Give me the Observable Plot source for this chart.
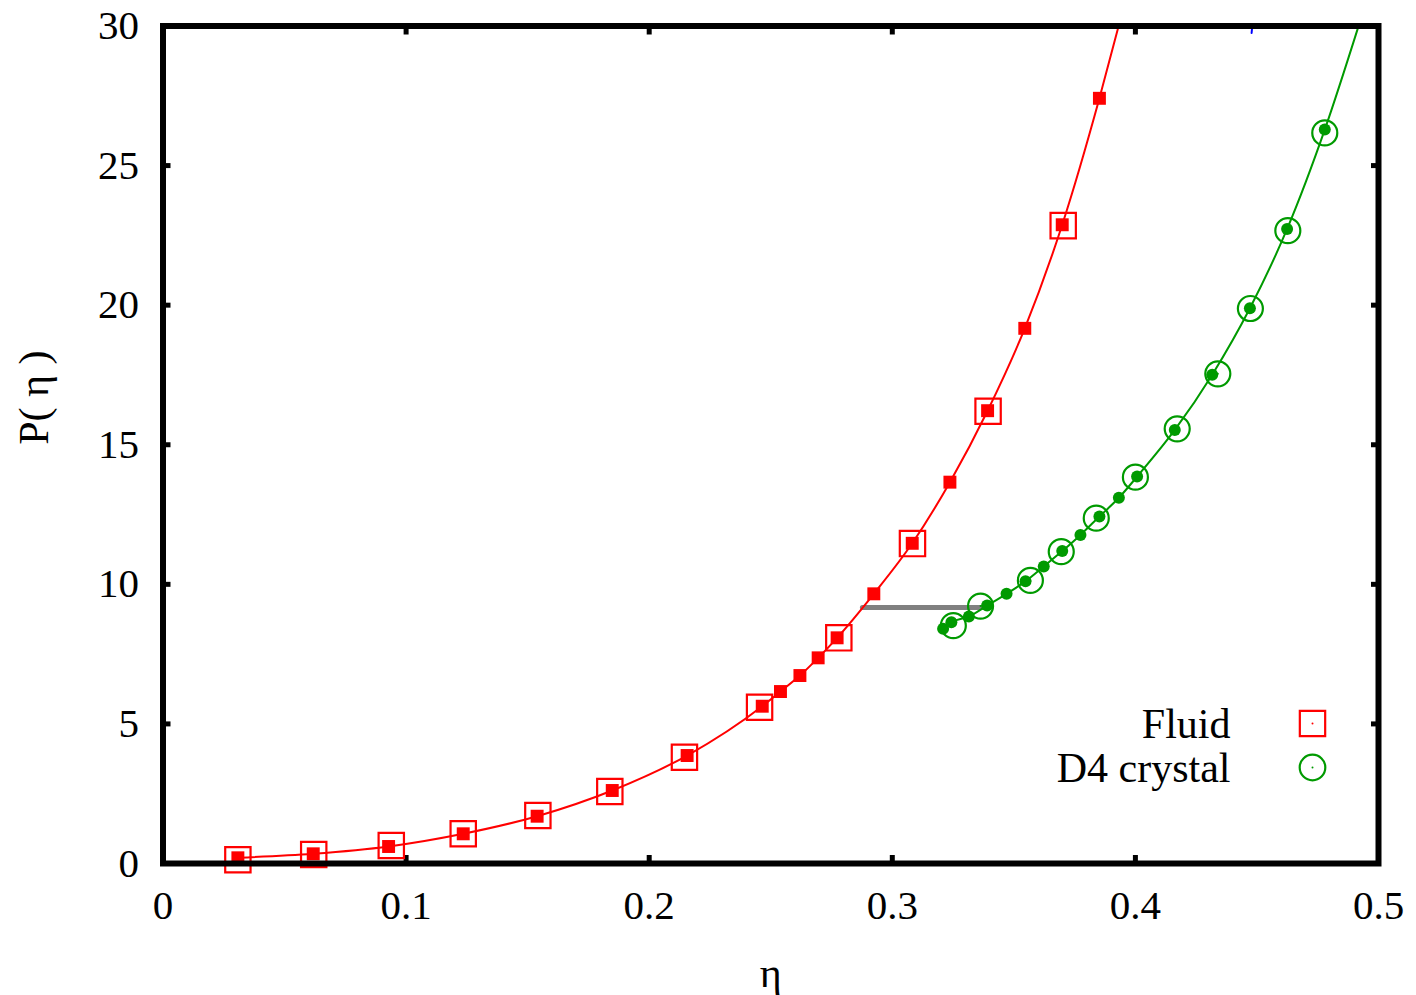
<!DOCTYPE html>
<html><head><meta charset="utf-8">
<script src="https://cdn.jsdelivr.net/npm/d3@7"></script>
<script src="https://cdn.jsdelivr.net/npm/@observablehq/plot@0.6"></script>
<style>html,body{margin:0;padding:0;background:#fff}#chart svg{display:block}</style>
</head><body><div id="chart"></div>
<script>
// Fluid: theory (line + filled squares)
const fluidTheoryEta = [0.0308,0.0618,0.0928,0.1235,0.1539,0.1848,0.2156,0.2465,0.2540,0.2620,0.2695,0.2773,0.2924,0.3082,0.3237,0.3392,0.3545,0.3699,0.3852,0.3931];
const fluidTheoryP   = [0.204,0.347,0.609,1.064,1.694,2.615,3.868,5.634,6.160,6.733,7.367,8.084,9.660,11.47,13.66,16.22,19.17,22.88,27.41,30.0];
const fluidPointCount = 19; // last entry is where the curve leaves the frame
// Fluid: simulation (open squares)
const fluidSimEta = [0.0308,0.0620,0.0939,0.1235,0.1542,0.1838,0.2145,0.2454,0.2780,0.3083,0.3394,0.3703];
const fluidSimP   = [0.133,0.322,0.645,1.064,1.719,2.579,3.807,5.598,8.084,11.46,16.20,22.85];
// D4 crystal: theory (line + filled circles)
const crystalTheoryEta = [0.3209,0.3243,0.3315,0.3390,0.3470,0.3548,0.3623,0.3699,0.3774,0.3852,0.3932,0.4007,0.4162,0.4316,0.4471,0.4624,0.4779,0.4918];
const crystalTheoryP   = [8.41,8.64,8.85,9.24,9.66,10.11,10.64,11.19,11.77,12.43,13.10,13.86,15.53,17.51,19.89,22.73,26.29,30.0];
const crystalPointCount = 17;
// D4 crystal: simulation (open circles)
const crystalSimEta = [0.3251,0.3363,0.3568,0.3695,0.3839,0.4000,0.4172,0.4339,0.4473,0.4627,0.4779];
const crystalSimP   = [8.52,9.22,10.14,11.17,12.37,13.84,15.57,17.54,19.88,22.67,26.17];
// coexistence tie line
const tieEta = [0.2877,0.3376];
const tieP   = [9.17,9.17];
// stray blue curve fragment at the top edge
const blueEta = [0.4478,0.4484];
const blueP   = [29.75,30.3];
// axes
const xTicks = [0,0.1,0.2,0.3,0.4,0.5];
const yTicks = [0,5,10,15,20,25,30];
const xLabel = "η";
const yLabel = "P( η )";
const legendLabels = ["Fluid","D4 crystal"];

const RED = "#ff0000", GREEN = "#009a00";
const zip = (a,b,n) => a.slice(0, n ?? a.length).map((v,i)=>({eta:v,P:b[i]}));
const fluidLine = zip(fluidTheoryEta, fluidTheoryP);
const fluidPts = zip(fluidTheoryEta, fluidTheoryP, fluidPointCount);
const fluidSim = zip(fluidSimEta, fluidSimP);
const crysLine = zip(crystalTheoryEta, crystalTheoryP);
const crysPts = zip(crystalTheoryEta, crystalTheoryP, crystalPointCount);
const crysSim = zip(crystalSimEta, crystalSimP);
const tie = zip(tieEta, tieP);
const blue = zip(blueEta, blueP);

const FONT = "'Liberation Serif','Times New Roman',serif";

const chart = Plot.plot({
  width: 1416, height: 995,
  marginLeft: 162.5, marginRight: 38, marginTop: 25.5, marginBottom: 132,
  x: {domain: [0, 0.5]},
  y: {domain: [0, 30]},
  style: {fontFamily: FONT, fontSize: "40px", background: "#fff", color: "#000"},
  marks: [
    // tick labels
    Plot.axisX({ticks: xTicks, tickSize: 0, tickPadding: 26, tickFormat: d => String(d), label: null, fontSize: 41}),
    Plot.axisY({ticks: yTicks, tickSize: 0, tickPadding: 24, tickFormat: d => String(d), label: null, fontSize: 41}),
    // inward ticks on all four sides
    Plot.axisX({ticks: xTicks, anchor: "bottom", tickSize: -8, strokeWidth: 5, tickFormat: () => "", label: null}),
    Plot.axisX({ticks: xTicks, anchor: "top", tickSize: -8, strokeWidth: 5, tickFormat: () => "", label: null}),
    Plot.axisY({ticks: yTicks, anchor: "left", tickSize: -8, strokeWidth: 5, tickFormat: () => "", label: null}),
    Plot.axisY({ticks: yTicks, anchor: "right", tickSize: -8, strokeWidth: 5, tickFormat: () => "", label: null}),
    // axis titles
    Plot.text([xLabel], {text: d => d, frameAnchor: "bottom", dy: 110, fontSize: 42, lineAnchor: "middle"}),
    Plot.text([yLabel], {text: d => d, frameAnchor: "left", dx: -128, rotate: -90, fontSize: 42, lineAnchor: "middle"}),
    // tie line
    Plot.line(tie, {x: "eta", y: "P", stroke: "#808080", strokeWidth: 5}),
    // curves
    Plot.line(fluidLine, {x: "eta", y: "P", stroke: RED, strokeWidth: 2, curve: "monotone-x", clip: true}),
    Plot.line(crysLine, {x: "eta", y: "P", stroke: GREEN, strokeWidth: 2, curve: "monotone-x", clip: true}),
    Plot.line(blue, {x: "eta", y: "P", stroke: "#0000ff", strokeWidth: 2, clip: true}),
    // simulation markers
    Plot.dot(fluidSim, {x: "eta", y: "P", symbol: "square", r: 14.3, stroke: RED, strokeWidth: 2.2, fill: "none"}),
    Plot.dot(fluidSim, {x: "eta", y: "P", r: 1, fill: RED}),
    Plot.dot(crysSim, {x: "eta", y: "P", symbol: "circle", r: 12.5, stroke: GREEN, strokeWidth: 2.2, fill: "none"}),
    Plot.dot(crysSim, {x: "eta", y: "P", r: 1, fill: GREEN}),
    // theory markers
    Plot.dot(fluidPts, {x: "eta", y: "P", symbol: "square", r: 7.3, fill: RED, stroke: null}),
    Plot.dot(crysPts, {x: "eta", y: "P", symbol: "circle", r: 6, fill: GREEN, stroke: null}),
    // legend
    Plot.text([legendLabels[0]], {text: d => d, frameAnchor: "bottom-right", dx: -148, dy: -139, textAnchor: "end", lineAnchor: "middle", fontSize: 42}),
    Plot.text([legendLabels[1]], {text: d => d, frameAnchor: "bottom-right", dx: -148, dy: -95, textAnchor: "end", lineAnchor: "middle", fontSize: 42}),
    Plot.dot([legendLabels[0]], {frameAnchor: "bottom-right", dx: -66, dy: -140, symbol: "square", r: 14.3, stroke: RED, strokeWidth: 2.2, fill: "none"}),
    Plot.dot([legendLabels[0]], {frameAnchor: "bottom-right", dx: -66, dy: -140, r: 1, fill: RED}),
    Plot.dot([legendLabels[1]], {frameAnchor: "bottom-right", dx: -66, dy: -96, symbol: "circle", r: 12.8, stroke: GREEN, strokeWidth: 2.2, fill: "none"}),
    Plot.dot([legendLabels[1]], {frameAnchor: "bottom-right", dx: -66, dy: -96, r: 1, fill: GREEN}),
    // border
    Plot.frame({stroke: "#000", strokeWidth: 6})
  ]
});
document.getElementById("chart").appendChild(chart);
</script>
</body></html>
